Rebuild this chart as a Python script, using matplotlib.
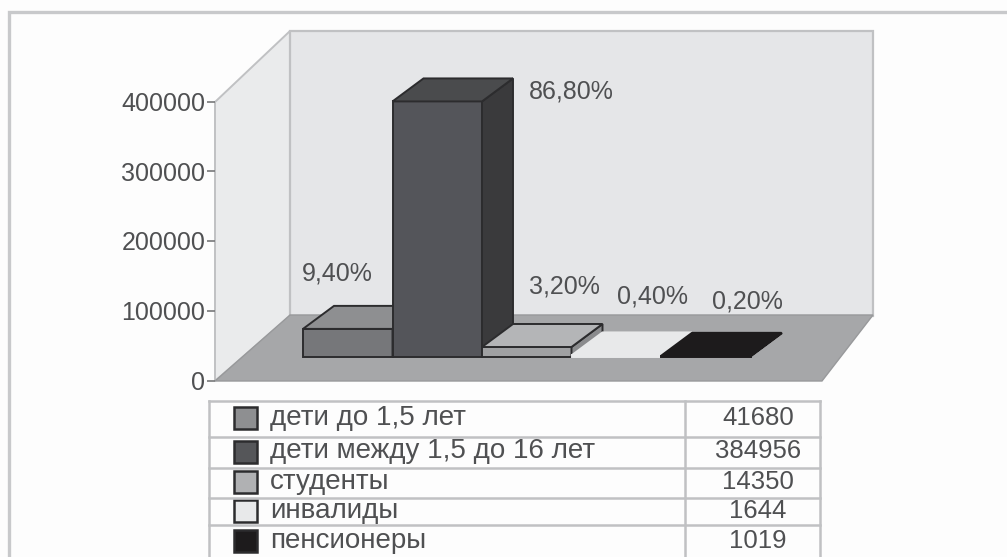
import matplotlib
matplotlib.use("Agg")
import matplotlib.pyplot as plt
from matplotlib.patches import Polygon, Rectangle

plt.rcParams['font.family'] = ['Liberation Sans', 'DejaVu Sans']

categories = ["дети до 1,5 лет", "дети между 1,5 до 16 лет", "студенты", "инвалиды", "пенсионеры"]
values = [41680, 384956, 14350, 1644, 1019]
percents = ["9,40%", "86,80%", "3,20%", "0,40%", "0,20%"]
y_ticks = [0, 100000, 200000, 300000, 400000]

front_colors = ["#76777a", "#54555a", "#a0a1a3", "#e8e9ea", "#1d1b1c"]
top_colors = ["#8e8f91", "#4a4b4d", "#b4b5b7", "#e8e9ea", "#1d1b1c"]
side_colors = ["#5c5d60", "#3a3a3c", "#8a8b8d", "#e8e9ea", "#1d1b1c"]
swatch_colors = ["#8e8f91", "#555659", "#b0b1b3", "#e8e9ea", "#1d1b1c"]
edge_colors = ["#2c2c2e", "#2c2c2e", "#2c2c2e", "#e8e9ea", "#1d1b1c"]
label_offsets = [(-10, 55), (134, 10), (38, 60), (36, 59), (42, 54)]

W, H = 1007, 557
PX_PER_UNIT = 279 / 400000
ZERO_PX = 380.5
BAR_BASE_PX = 356.5
BAR_SCALE = 0.95
BAR_LEFT = 303
BAR_W = 89.5
DX, DY = 31, 23
TEXT = "#4f5052"


def to_value(px):
    return (ZERO_PX - px) / PX_PER_UNIT


fig = plt.figure(figsize=(W / 100, H / 100), dpi=100, facecolor="#fdfdfd")

# pixel-space layer: frame, walls, floor
bg = fig.add_axes([0, 0, 1, 1], zorder=1)
bg.set_xlim(0, W)
bg.set_ylim(H, 0)
bg.axis("off")
bg.plot([9, 9, W], [H, 12, 12], color="#c8c9cb", lw=2.4, solid_joinstyle="miter")
wall_edge = "#c0c1c3"
bg.add_patch(Polygon([(215, 102), (290, 31), (290, 316), (215, 381)], fc="#eaebec", ec=wall_edge, lw=1.4))
bg.add_patch(Polygon([(290, 31), (873, 31), (873, 316), (290, 316)], fc="#e5e6e8", ec=wall_edge, lw=1.6))
bg.add_patch(Polygon([(215, 381), (290, 315), (873, 315), (822, 381)], fc="#a6a7a9", ec="#98999b", lw=1))

# data layer: value axis and bars
ax = fig.add_axes([0, 0, 1, 1], zorder=2)
ax.patch.set_alpha(0)
ax.set_xlim(0, W)
ax.set_ylim(to_value(H), to_value(0))
for side in ("top", "right", "bottom"):
    ax.spines[side].set_visible(False)
ax.spines["left"].set_position(("data", 215))
ax.spines["left"].set_visible(False)
ax.set_xticks([])
ax.set_yticks(y_ticks)
ax.set_yticklabels([str(t) for t in y_ticks], fontsize=18, color=TEXT)
ax.tick_params(axis="y", direction="out", length=6, width=1.2, color="#77787a", pad=1)

base = to_value(BAR_BASE_PX)
dv = DY / PX_PER_UNIT
for i, v in enumerate(values):
    x0 = BAR_LEFT + i * BAR_W
    x1 = x0 + BAR_W
    top = base + v * BAR_SCALE
    ec = edge_colors[i]
    ax.bar(x0, v * BAR_SCALE, width=BAR_W, bottom=base, align="edge",
           color=front_colors[i], edgecolor=ec, linewidth=1.4, zorder=3 + i)
    ax.add_patch(Polygon([(x1, base), (x1 + DX, base + dv), (x1 + DX, top + dv), (x1, top)],
                         fc=side_colors[i], ec=ec, lw=1.4, zorder=3 + i))
    ax.add_patch(Polygon([(x0, top), (x0 + DX, top + dv), (x1 + DX, top + dv), (x1, top)],
                         fc=top_colors[i], ec=ec, lw=1.4, zorder=3 + i))
    off = label_offsets[i]
    ax.annotate(percents[i], (x0 + BAR_W / 2, top), xytext=(off[0] * 0.72, off[1] * 0.72),
                textcoords="offset points", ha="center", va="center",
                fontsize=18, color=TEXT, zorder=20)

# legend table
fg = fig.add_axes([0, 0, 1, 1], zorder=3)
fg.patch.set_alpha(0)
fg.set_xlim(0, W)
fg.set_ylim(H, 0)
fg.axis("off")
tbl_left, tbl_right, tbl_div = 209, 820, 685
row_lines = [401, 437, 468, 498, 525, 557]
line_c = "#c0c1c3"
for y in row_lines[:-1]:
    fg.plot([tbl_left, tbl_right], [y, y], color=line_c, lw=1.8)
for x in (tbl_left, tbl_div, tbl_right):
    fg.plot([x, x], [401, H], color=line_c, lw=1.8)
for i, name in enumerate(categories):
    cy = (row_lines[i] + row_lines[i + 1]) / 2 + (-1 if i < 4 else 0)
    fg.add_patch(Rectangle((234, cy - 11), 23, 22, fc=swatch_colors[i], ec="#2c2c2e", lw=1.8))
    fg.text(270, cy, name, fontsize=20, color=TEXT, ha="left", va="center")
    fg.text(758, cy, str(values[i]), fontsize=18.5, color=TEXT, ha="center", va="center")

fig.savefig("out.png", dpi=100, facecolor=fig.get_facecolor())
